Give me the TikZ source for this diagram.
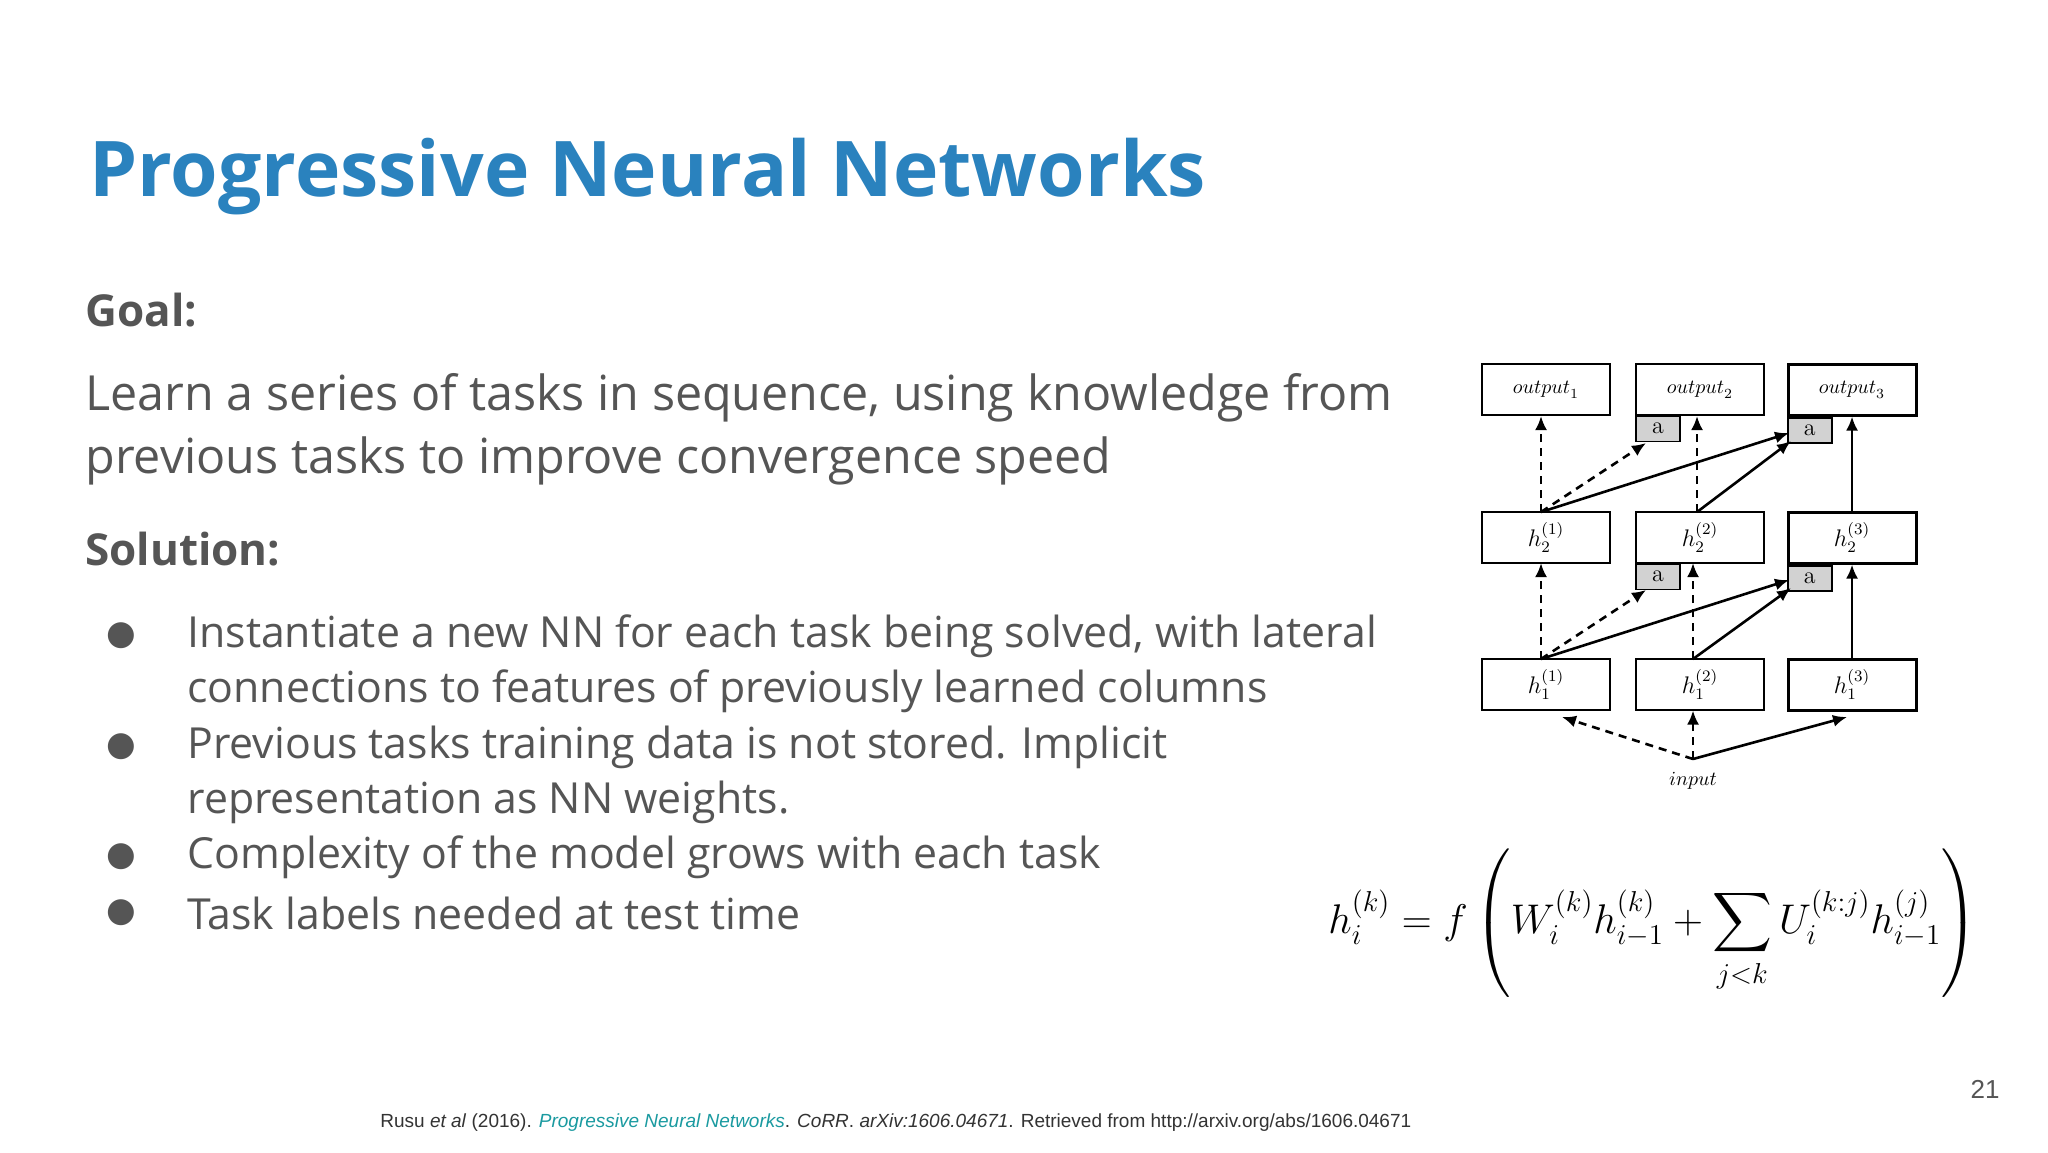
\documentclass[tikz,border=0pt]{standalone}
\usepackage{fontspec}
\setmainfont{Open Sans}
\newfontfamily\dejafont{DejaVu Sans}
\newfontfamily\arialfont{Liberation Sans}
\newfontfamily\lmfont{Latin Modern Roman}
\usepackage{amsmath}
\usetikzlibrary{arrows.meta}
\definecolor{ttl}{HTML}{2A82BE}
\definecolor{body}{HTML}{555555}
\definecolor{lnk}{HTML}{1A9AA0}
\tikzset{
 bx/.style={draw,line width=0.6pt,minimum width=64pt,minimum height=25.5pt,inner sep=0pt,font=\normalsize},
 bxk/.style={bx,line width=1.5pt},
 abx/.style={draw,line width=0.6pt,fill=gray!35,minimum width=22pt,minimum height=12.5pt,inner sep=0pt,font=\large\lmfont,anchor=north west},
 abxk/.style={abx,line width=1.3pt},
 da/.style={line width=1.3pt,dashed,dash pattern=on 4pt off 3pt,-{Latex[length=7pt,width=6pt]}},
 sa/.style={line width=1.3pt,-{Latex[length=7pt,width=6pt]}},
 bodytxt/.style={text=body,anchor=west,font=\fontsize{24.2}{28}\selectfont,inner sep=0pt},
 bultxt/.style={text=body,anchor=west,font=\fontsize{21.4}{26}\selectfont,inner sep=0pt},
 head/.style={text=body,anchor=west,font=\fontsize{22}{26}\selectfont\bfseries,inner sep=0pt},
}
\begin{document}
\begin{tikzpicture}[x=0.5pt,y=-0.5pt]
\useasboundingbox[fill=white] (0,0) rectangle (2048,1152);
\node[anchor=base west,text=ttl,font=\fontsize{38.4}{44}\selectfont\bfseries,inner sep=0pt] (title) at (89,196) {Progressive Neural Networks};
\node[head] (goal) at (85,310) {Goal:};
\node[bodytxt] (l1) at (85,398) {Learn a series of tasks in sequence, using knowledge from};
\node[bodytxt] (l2) at (85,461) {previous tasks to improve convergence speed};
\node[head] (sol) at (85,549) {Solution:};
\foreach \y/\t [count=\i] in {636/{Instantiate a new NN for each task being solved, with lateral},
 691/{connections to features of previously learned columns},
 747/{Previous tasks training data is not stored. Implicit},
 802/{representation as NN weights.},
 857/{Complexity of the model grows with each task},
 913/{Task labels needed at test time}}
 \node[bultxt] (b\i) at (187,\y) {\t};
\foreach \y [count=\i] in {636,747,857,913}
 \node[text=body,font=\dejafont\fontsize{17}{20}\selectfont,inner sep=0pt] (dot\i) at (121,\y) {●};
% diagram
\node[bx] (o1) at (1546,389.5) {$\mathnormal{output}_1$};
\node[bx] (o2) at (1700,389.5) {$\mathnormal{output}_2$};
\node[bxk] (o3) at (1852,389.5) {$\mathnormal{output}_3$};
\node[bx,font=\large] (h21) at (1546,537.5) {$h_2^{(1)}$};
\node[bx,font=\large] (h22) at (1700,537.5) {$h_2^{(2)}$};
\node[bxk,font=\large] (h23) at (1852,537.5) {$h_2^{(3)}$};
\node[bx,font=\large] (h11) at (1546,684.5) {$h_1^{(1)}$};
\node[bx,font=\large] (h12) at (1700,684.5) {$h_1^{(2)}$};
\node[bxk,font=\large] (h13) at (1852,684.5) {$h_1^{(3)}$};
\node[abx] (a2u) at (o2.south west) {a};
\node[abxk] (a3u) at (o3.south west) {a};
\node[abx] (a2l) at (h22.south west) {a};
\node[abxk] (a3l) at (h23.south west) {a};
\coordinate (in) at (1693,759);
\node[font=\normalsize,inner sep=0pt] (inl) at (1693,781) {$\mathnormal{input}$};
\coordinate (t21) at (1541,512);
\coordinate (t22) at (1697,512);
\coordinate (t11) at (1541,659);
\coordinate (t12) at (1693,659);
\draw[da] (t21) -- (1541,416);
\draw[da] (t21) -- (1646,443);
\draw[sa] (t21) -- (1789,433);
\draw[da] (t22) -- (1697,416);
\draw[sa] (t22) -- (1791,441);
\draw[sa] (h23.north -| 1852,0) -- (o3.south -| 1852,0);
\draw[da] (t11) -- (1541,563);
\draw[da] (t11) -- (1646,590);
\draw[sa] (t11) -- (1789,580);
\draw[da] (t12) -- (1693,563);
\draw[sa] (t12) -- (1791,588);
\draw[sa] (h13.north -| 1852,0) -- (h23.south -| 1852,0);
\draw[da] (in) -- (1562,717);
\draw[da] (in) -- (1693,710.5);
\draw[sa] (in) -- (1847,717);
% equation
\node[anchor=west,inner sep=0pt,font=\fontsize{21.3}{25}\selectfont] (eq) at (1328,923)
 {$\displaystyle h_i^{(k)} = f\left(\rule[-32pt]{0pt}{68pt} W_i^{(k)} h_{i-1}^{(k)} + \sum_{j<k} U_i^{(k:j)} h_{i-1}^{(j)}\right)$};
\node[anchor=center,text=body,font=\arialfont\fontsize{13}{15}\selectfont,inner sep=0pt] (pg) at (1985,1089) {21};
\node[anchor=west,text=black!80,font=\arialfont\fontsize{9.5}{11}\selectfont,inner sep=0pt] (ref) at (380,1123)
 {Rusu \textit{et al} (2016). \textcolor{lnk}{\textit{Progressive Neural Networks}}. \textit{CoRR}. \textit{arXiv:1606.04671}. Retrieved from http://arxiv.org/abs/1606.04671};
\end{tikzpicture}
\end{document}
